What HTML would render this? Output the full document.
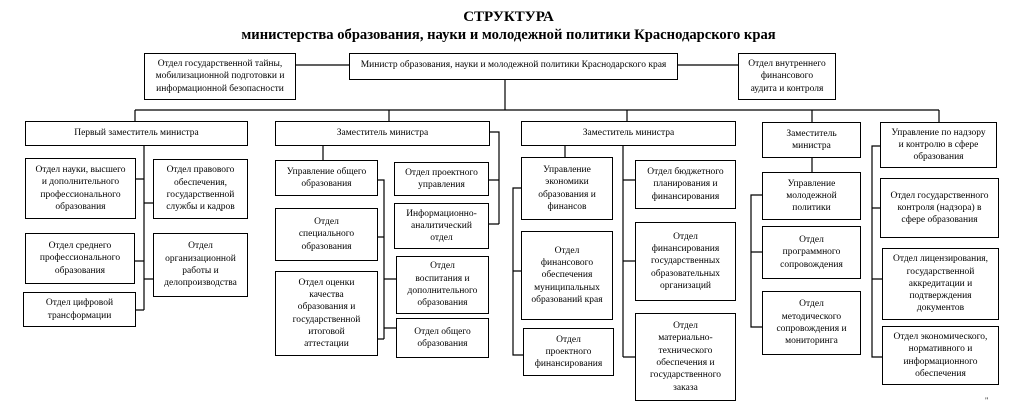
<!DOCTYPE html>
<html><head><meta charset="utf-8"><style>
body{margin:0;width:1017px;height:414px;background:#fff;position:relative;overflow:hidden;font-family:"Liberation Serif","Noto Serif CJK SC",serif;color:#000}
.b{position:absolute;border:1.3px solid #000;box-sizing:border-box;display:flex;align-items:center;justify-content:center;text-align:center;font-size:9.5px;line-height:12.3px;background:#fff}
.t{position:absolute;left:0;width:1017px;text-align:center;font-weight:bold;font-size:15px}
svg{position:absolute;left:0;top:0}
</style></head><body>
<div class="t" style="top:9px">СТРУКТУРА</div>
<div class="t" style="top:27px;font-size:14.6px">министерства образования, науки и молодежной политики Краснодарского края</div>
<svg width="1017" height="414" stroke="#000" stroke-width="1.2" fill="none">
<path d="M295 65H349M678 65H738M505 80V110M135 110H939M135 110V121M389 110V121M627 110V121M812 110V122M939 110V122"/>
<path d="M144 145V310M135 179H144M135 261H144M135 310H144M144 203H153M144 279H153"/>
<path d="M323 145V160M377 180H384V339M377 237H384M377 339H384M384 279H396M384 328H396M489 132H499V224M488 180H499M488 224H499"/>
<path d="M565 145V157M521 188H513V355H523M513 271H521M623 145V357M623 180H635M623 261H635M623 357H635"/>
<path d="M812 157V172M762 195H751V327H762M751 252H762"/>
<path d="M880 146H872V357H882M872 208H880M872 279H882"/>
</svg>
<div class="b" style="left:144px;top:53px;width:152px;height:47px">Отдел государственной тайны,<br>мобилизационной подготовки и<br>информационной безопасности</div>
<div class="b" style="left:349px;top:53px;width:329px;height:27px;align-items:flex-start;padding-top:5px">Министр образования, науки и молодежной политики Краснодарского края</div>
<div class="b" style="left:738px;top:53px;width:98px;height:47px">Отдел внутреннего<br>финансового<br>аудита и контроля</div>

<div class="b" style="left:25px;top:121px;width:223px;height:25px">Первый заместитель министра</div>
<div class="b" style="left:275px;top:121px;width:215px;height:25px">Заместитель министра</div>
<div class="b" style="left:521px;top:121px;width:215px;height:25px">Заместитель министра</div>
<div class="b" style="left:762px;top:122px;width:99px;height:36px">Заместитель<br>министра</div>
<div class="b" style="left:880px;top:122px;width:117px;height:46px">Управление по надзору<br>и контролю в сфере<br>образования</div>

<div class="b" style="left:25px;top:158px;width:111px;height:61px">Отдел науки, высшего<br>и дополнительного<br>профессионального<br>образования</div>
<div class="b" style="left:25px;top:233px;width:110px;height:51px">Отдел среднего<br>профессионального<br>образования</div>
<div class="b" style="left:23px;top:292px;width:113px;height:35px">Отдел цифровой<br>трансформации</div>
<div class="b" style="left:153px;top:159px;width:95px;height:60px">Отдел правового<br>обеспечения,<br>государственной<br>службы и кадров</div>
<div class="b" style="left:153px;top:233px;width:95px;height:64px">Отдел<br>организационной<br>работы и<br>делопроизводства</div>

<div class="b" style="left:275px;top:160px;width:103px;height:36px">Управление общего<br>образования</div>
<div class="b" style="left:275px;top:208px;width:103px;height:53px">Отдел<br>специального<br>образования</div>
<div class="b" style="left:275px;top:271px;width:103px;height:85px">Отдел оценки<br>качества<br>образования и<br>государственной<br>итоговой<br>аттестации</div>
<div class="b" style="left:394px;top:162px;width:95px;height:34px">Отдел проектного<br>управления</div>
<div class="b" style="left:394px;top:203px;width:95px;height:46px">Информационно-<br>аналитический<br>отдел</div>
<div class="b" style="left:396px;top:256px;width:93px;height:58px">Отдел<br>воспитания и<br>дополнительного<br>образования</div>
<div class="b" style="left:396px;top:318px;width:93px;height:40px">Отдел общего<br>образования</div>

<div class="b" style="left:521px;top:157px;width:92px;height:63px">Управление<br>экономики<br>образования и<br>финансов</div>
<div class="b" style="left:521px;top:231px;width:92px;height:89px">Отдел<br>финансового<br>обеспечения<br>муниципальных<br>образований края</div>
<div class="b" style="left:523px;top:328px;width:91px;height:48px">Отдел<br>проектного<br>финансирования</div>
<div class="b" style="left:635px;top:160px;width:101px;height:49px">Отдел бюджетного<br>планирования и<br>финансирования</div>
<div class="b" style="left:635px;top:222px;width:101px;height:79px">Отдел<br>финансирования<br>государственных<br>образовательных<br>организаций</div>
<div class="b" style="left:635px;top:313px;width:101px;height:88px">Отдел<br>материально-<br>технического<br>обеспечения и<br>государственного<br>заказа</div>

<div class="b" style="left:762px;top:172px;width:99px;height:48px">Управление<br>молодежной<br>политики</div>
<div class="b" style="left:762px;top:226px;width:99px;height:53px">Отдел<br>программного<br>сопровождения</div>
<div class="b" style="left:762px;top:291px;width:99px;height:64px">Отдел<br>методического<br>сопровождения и<br>мониторинга</div>

<div class="b" style="left:880px;top:178px;width:119px;height:60px">Отдел государственного<br>контроля (надзора) в<br>сфере образования</div>
<div class="b" style="left:882px;top:248px;width:117px;height:72px">Отдел лицензирования,<br>государственной<br>аккредитации и<br>подтверждения<br>документов</div>
<div class="b" style="left:882px;top:326px;width:117px;height:59px">Отдел экономического,<br>нормативного и<br>информационного<br>обеспечения</div>
<div style="position:absolute;left:985px;top:396px;font-size:8px">"</div>
</body></html>
